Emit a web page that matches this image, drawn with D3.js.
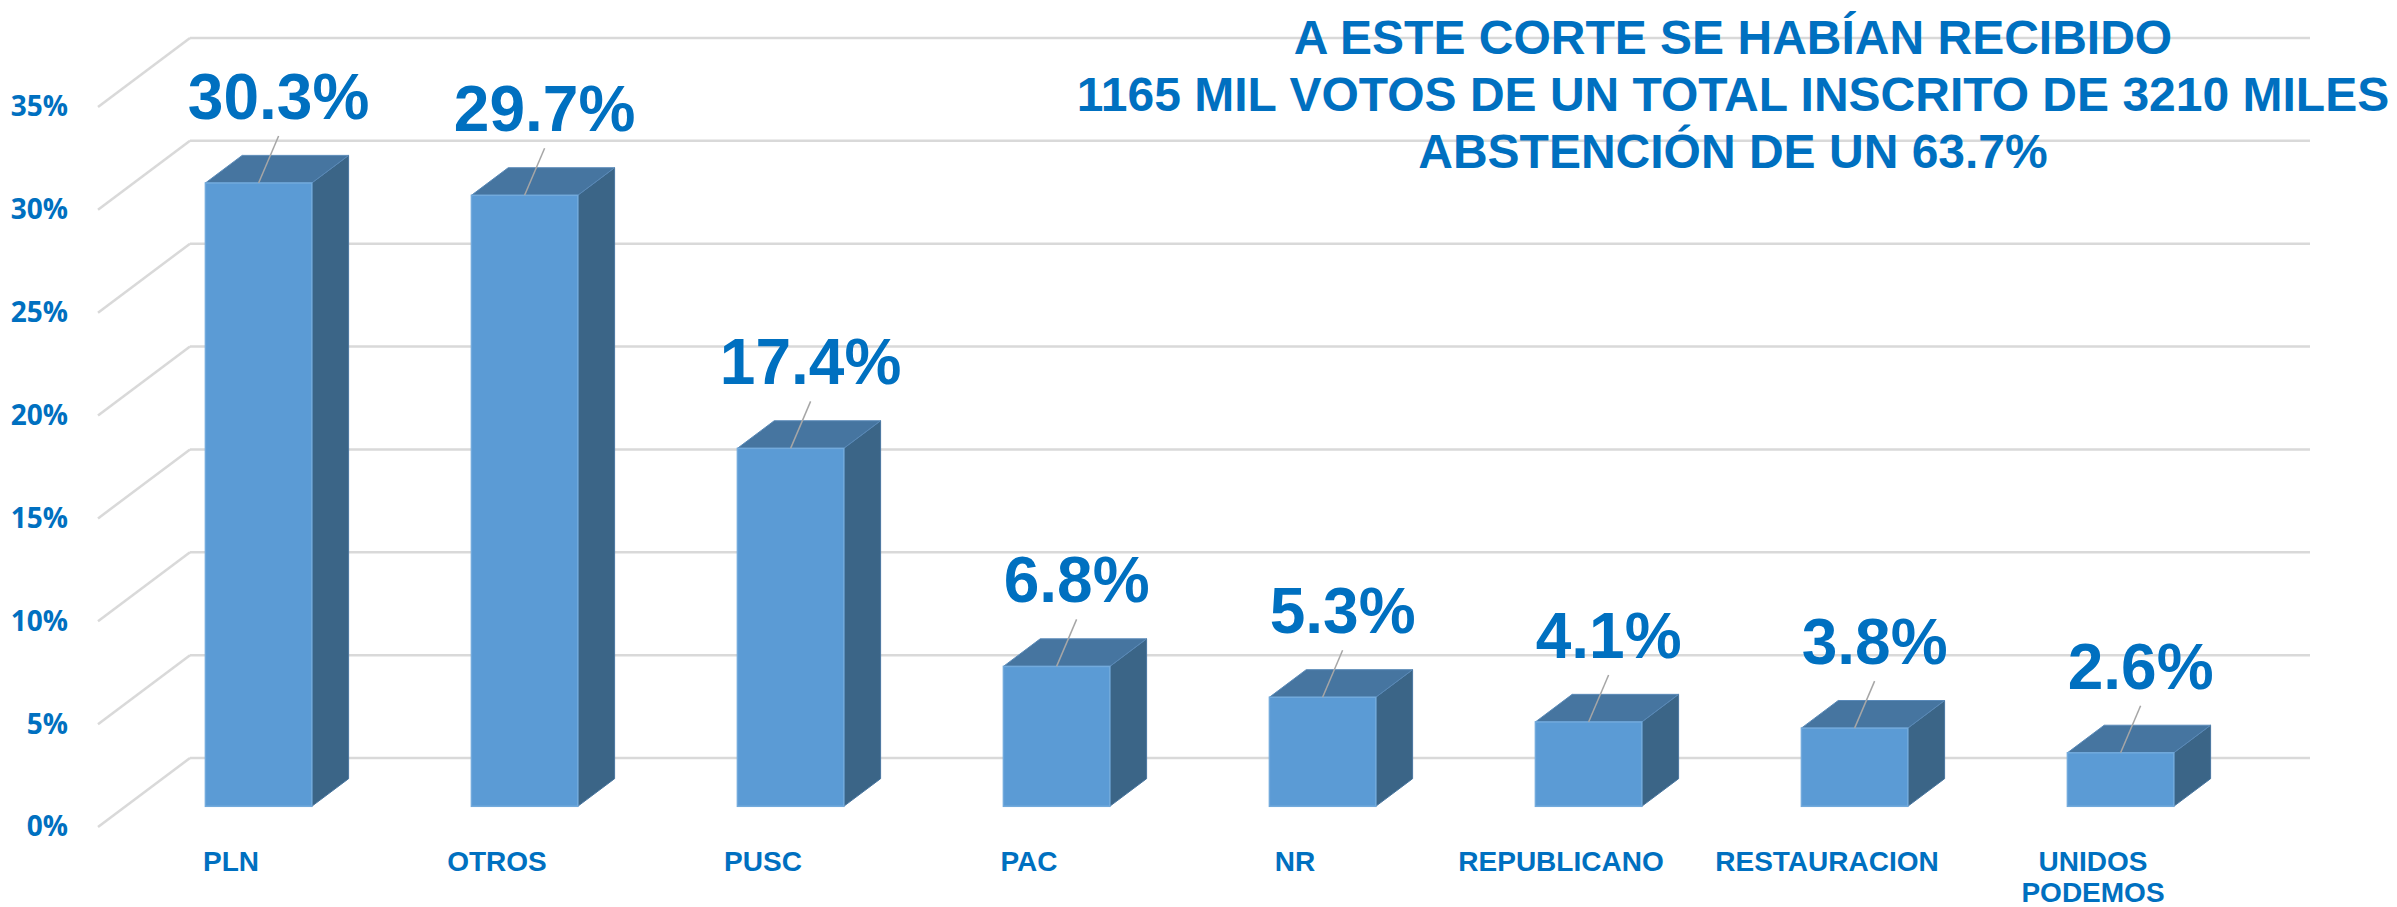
<!DOCTYPE html>
<html>
<head>
<meta charset="utf-8">
<script src="https://cdn.jsdelivr.net/npm/d3@7"></script>
<style>
  body { margin: 0; background: #fff; }
  svg { display: block; }
  .title { font-family: "Liberation Sans", Arial, sans-serif; font-weight: bold; font-size: 48px; fill: #0070C0; }
  .valueLabel { font-family: "Liberation Sans", Arial, sans-serif; font-weight: bold; font-size: 64px; fill: #0070C0; }
  .catLabel { font-family: "Liberation Sans", Arial, sans-serif; font-weight: bold; font-size: 28px; fill: #0070C0; }
  .yAxis text { font-family: "Open Sans", sans-serif; font-weight: bold; font-size: 28px; fill: #0070C0; }
</style>
</head>
<body>
<div id="chart"></div>
<script>
// chart data
var categories = ["PLN", "OTROS", "PUSC", "PAC", "NR", "REPUBLICANO", "RESTAURACION", "UNIDOS PODEMOS"];
var shares = [30.3, 29.7, 17.4, 6.8, 5.3, 4.1, 3.8, 2.6];
var yTicks = [0, 5, 10, 15, 20, 25, 30, 35];
var titleLines = [
  "A ESTE CORTE SE HABÍAN RECIBIDO",
  "1165 MIL VOTOS DE UN TOTAL INSCRITO DE 3210 MILES",
  "ABSTENCIÓN DE UN 63.7%"
];

var svgWidth = 2397;
var svgHeight = 907;

var svg = d3.select("#chart")
  .append("svg")
  .attr("width", svgWidth)
  .attr("height", svgHeight);

// front plane scales (depth 0), the 3d depth is an oblique shift
var x = d3.scaleBand()
  .domain(categories)
  .range([98, 2226])
  .paddingInner(0.6)
  .paddingOuter(0.3);

var y = d3.scaleLinear()
  .domain([0, 35])
  .range([827, 107]);

var depthX = 92, depthY = -69;
var barFront = 0.3, barBack = 0.7;
var wallRight = 2310;

// gridlines: left wall diagonals + back wall
var grid = svg.append("g");
yTicks.forEach(function(t) {
  grid.append("line")
    .attr("x1", x.range()[0]).attr("y1", y(t))
    .attr("x2", x.range()[0] + depthX).attr("y2", y(t) + depthY)
    .attr("stroke", "#D9D9D9").attr("stroke-width", 2.5);
  grid.append("line")
    .attr("x1", x.range()[0] + depthX).attr("y1", y(t) + depthY)
    .attr("x2", wallRight).attr("y2", y(t) + depthY)
    .attr("stroke", "#D9D9D9").attr("stroke-width", 2.5);
});

// title (drawn over the gridlines like the original)
svg.selectAll(".title")
  .data(titleLines)
  .enter()
  .append("text")
  .attr("class", "title")
  .attr("x", 1733)
  .attr("y", (d, i) => 54 + i * 57)
  .attr("text-anchor", "middle")
  .text(d => d);

// bars
var ox = depthX * (barBack - barFront);
var oy = depthY * (barBack - barFront);
var bw = x.bandwidth();

var bars = svg.selectAll(".bar")
  .data(categories.map((c, i) => ({ cat: c, value: shares[i] })))
  .enter()
  .append("g")
  .attr("class", "bar");

function frontLeft(d) { return x(d.cat) + depthX * barFront; }
function frontTop(d) { return y(d.value) + depthY * barFront; }
function frontBottom() { return y(0) + depthY * barFront; }

// side face
bars.append("path")
  .attr("d", function(d) {
    var x1 = frontLeft(d) + bw, yt = frontTop(d), yb = frontBottom();
    return `M${x1},${yt} L${x1 + ox},${yt + oy} L${x1 + ox},${yb + oy} L${x1},${yb} Z`;
  })
  .attr("fill", "#3B6587")
  .attr("stroke", "#4A77A0")
  .attr("stroke-width", 1);

// top face
bars.append("path")
  .attr("d", function(d) {
    var x0 = frontLeft(d), yt = frontTop(d);
    return `M${x0},${yt} L${x0 + bw},${yt} L${x0 + bw + ox},${yt + oy} L${x0 + ox},${yt + oy} Z`;
  })
  .attr("fill", "#4675A0")
  .attr("stroke", "#5A8AB8")
  .attr("stroke-width", 1);

// front face
bars.append("rect")
  .attr("x", d => frontLeft(d))
  .attr("y", d => frontTop(d))
  .attr("width", bw)
  .attr("height", d => frontBottom() - frontTop(d))
  .attr("fill", "#5B9BD5")
  .attr("stroke", "#72AADC")
  .attr("stroke-width", 1.5);

// value labels with leader lines
var labelDx = 20, labelDy = -87;

bars.append("line")
  .attr("x1", d => frontLeft(d) + bw / 2)
  .attr("y1", d => frontTop(d))
  .attr("x2", d => frontLeft(d) + bw / 2 + labelDx)
  .attr("y2", d => frontTop(d) + labelDy + 40)
  .attr("stroke", "#A6A6A6")
  .attr("stroke-width", 1.5);

bars.append("text")
  .attr("class", "valueLabel")
  .attr("x", d => frontLeft(d) + bw / 2 + labelDx)
  .attr("y", d => frontTop(d) + labelDy + 23)
  .attr("text-anchor", "middle")
  .text(d => d.value.toFixed(1) + "%");

// category labels (front plane)
var catText = svg.selectAll(".catLabel")
  .data(categories)
  .enter()
  .append("text")
  .attr("class", "catLabel")
  .attr("text-anchor", "middle")
  .attr("x", d => x(d) + bw / 2)
  .attr("y", y(0) + 44);

catText.each(function(d) {
  var words = d.split(" ");
  var el = d3.select(this);
  words.forEach(function(w, i) {
    el.append("tspan")
      .attr("x", x(d) + bw / 2)
      .attr("dy", i === 0 ? 0 : 31)
      .text(w);
  });
});

// y axis
var yAxis = d3.axisLeft(y)
  .tickValues(yTicks)
  .tickFormat(d => d + "%")
  .tickSize(0)
  .tickPadding(0);

svg.append("g")
  .attr("class", "yAxis")
  .attr("transform", "translate(68,0)")
  .call(yAxis)
  .call(g => g.select(".domain").remove());
</script>
</body>
</html>
